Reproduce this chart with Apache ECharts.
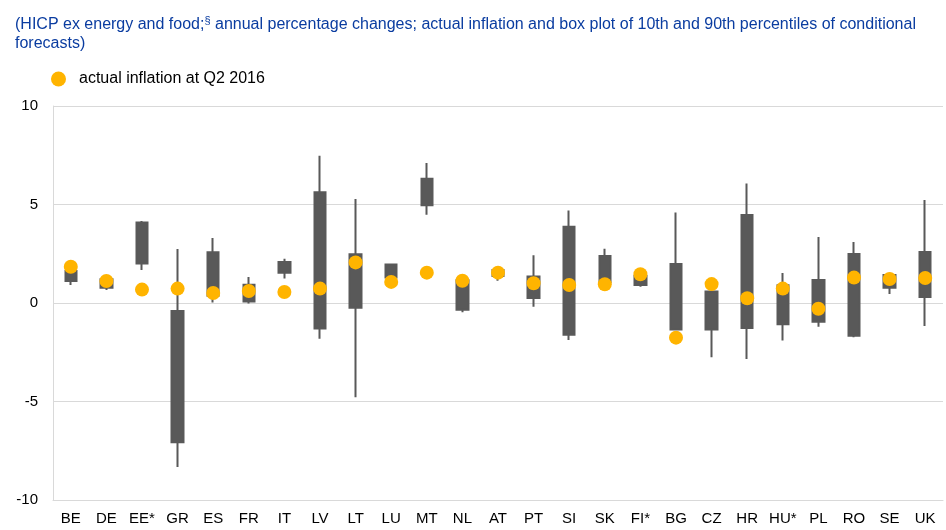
<!DOCTYPE html>
<html>
<head>
<meta charset="utf-8">
<script src="https://cdn.jsdelivr.net/npm/echarts@6/dist/echarts.min.js"></script>
<style>
html,body{margin:0;padding:0;background:#fff;}
#chart{width:946px;height:530px;}
</style>
</head>
<body>
<div id="chart"></div>
<script>
// countries
var countries = ['BE','DE','EE*','GR','ES','FR','IT','LV','LT','LU','MT','NL','AT','PT','SI','SK','FI*','BG','CZ','HR','HU*','PL','RO','SE','UK'];
// 10th / 90th percentile box
var boxLow  = [1.12, 0.78, 2.00, -7.07, 0.37, 0.08, 1.54, -1.30, -0.24, 1.30, 4.96, -0.34, 1.37, 0.25, -1.61, 1.05, 0.91, -1.35, -1.34, -1.27, -1.08, -0.95, -1.66, 0.78, 0.30];
var boxHigh = [1.62, 1.20, 4.09, -0.41, 2.57, 0.93, 2.08, 5.62, 2.47, 1.95, 6.31, 1.15, 1.68, 1.34, 3.87, 2.39, 1.37, 1.98, 0.59, 4.47, 0.90, 1.17, 2.49, 1.42, 2.59];
// whiskers
var whiskerLow  = [0.91, 0.66, 1.68, -8.32, 0.03, -0.03, 1.25, -1.81, -4.79, 1.30, 4.48, -0.47, 1.13, -0.19, -1.88, 1.05, 0.83, -1.35, -2.76, -2.84, -1.90, -1.20, -1.74, 0.46, -1.17];
var whiskerHigh = [1.62, 1.20, 4.16, 2.74, 3.30, 1.32, 2.25, 7.48, 5.28, 2.00, 7.11, 1.15, 1.76, 2.42, 4.69, 2.76, 1.37, 4.60, 0.59, 6.06, 1.52, 3.35, 3.10, 1.54, 5.23];
// actual inflation at Q2 2016
var actual = [1.84, 1.12, 0.68, 0.73, 0.51, 0.61, 0.56, 0.73, 2.06, 1.07, 1.54, 1.13, 1.54, 1.00, 0.91, 0.95, 1.46, -1.76, 0.96, 0.24, 0.73, -0.29, 1.29, 1.22, 1.27];

var boxData = [];
for (var i = 0; i < countries.length; i++) {
	boxData.push([boxLow[i], boxHigh[i], whiskerLow[i], whiskerHigh[i]]);
}

var myChart = echarts.init(document.getElementById('chart'));
var option = {
	animation: false,
	textStyle: {fontFamily: 'Liberation Sans, Arial, sans-serif'},
	title: {
		left: 10, top: 10,
		text: '(HICP ex energy and food;{sup|§} annual percentage changes; actual inflation and box plot of 10th and 90th percentiles of conditional\nforecasts)',
		textStyle: {
			color: '#0a3ca0', fontSize: 16, fontWeight: 'normal', lineHeight: 19,
			fontFamily: 'Liberation Sans, Arial, sans-serif',
			rich: {sup: {fontSize: 11, color: '#0a3ca0', verticalAlign: 'top', lineHeight: 19, padding: [0, 0, 8, 0]}}
		}
	},
	legend: {
		left: 46, top: 66,
		itemWidth: 15, itemHeight: 15,
		textStyle: {color: '#000', fontSize: 16, padding: [0, 0, 0, 8], fontFamily: 'Liberation Sans, Arial, sans-serif'},
		data: [{name: 'actual inflation at Q2 2016', icon: 'circle'}]
	},
	grid: {left: 53, right: 3, top: 106, bottom: 30},
	xAxis: {
		type: 'category',
		data: countries,
		axisLine: {onZero: false, lineStyle: {color: '#d9d9d9', width: 1}},
		axisTick: {show: false},
		axisLabel: {color: '#000', fontSize: 15, margin: 11, interval: 0}
	},
	yAxis: {
		type: 'value',
		min: -10, max: 10, interval: 5,
		axisLine: {show: true, lineStyle: {color: '#d9d9d9'}},
		axisTick: {show: false},
		axisLabel: {color: '#000', fontSize: 15, margin: 15},
		splitLine: {lineStyle: {color: '#d9d9d9', width: 1}}
	},
	series: [
		{
			name: 'box', type: 'candlestick',
			data: boxData,
			barWidth: 12,
			itemStyle: {color: '#595959', color0: '#595959', borderColor: '#595959', borderColor0: '#595959', borderWidth: 2},
			z: 2
		},
		{
			name: 'actual inflation at Q2 2016', type: 'scatter',
			data: actual,
			symbol: 'circle', symbolSize: 14,
			itemStyle: {color: '#ffb400', opacity: 1},
			z: 3
		}
	]
};
myChart.setOption(option);
</script>
</body>
</html>
